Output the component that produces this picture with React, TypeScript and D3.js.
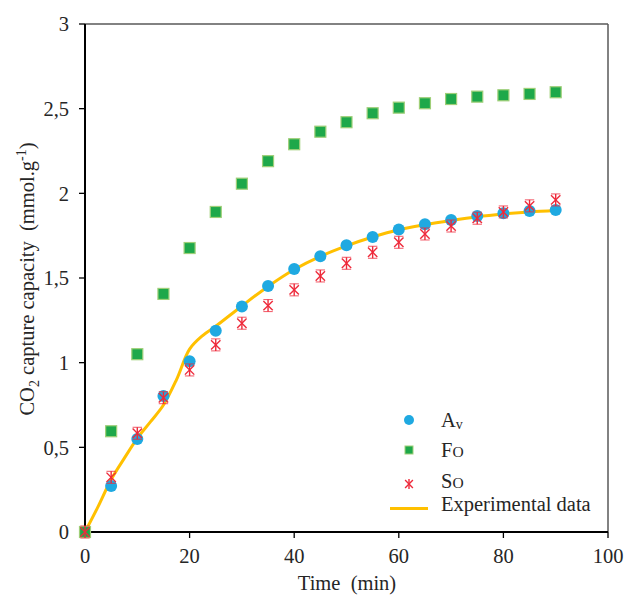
import React from "react";
import * as d3 from "d3";

const times = [0, 5, 10, 15, 20, 25, 30, 35, 40, 45, 50, 55, 60, 65, 70, 75, 80, 85, 90];
const avValues = [0, 0.272, 0.549, 0.803, 1.008, 1.189, 1.331, 1.453, 1.553, 1.628, 1.693, 1.742, 1.786, 1.817, 1.843, 1.866, 1.882, 1.896, 1.902];
const foValues = [0, 0.595, 1.05, 1.406, 1.677, 1.89, 2.057, 2.19, 2.29, 2.364, 2.42, 2.473, 2.506, 2.532, 2.557, 2.571, 2.579, 2.587, 2.597];
const soValues = [0, 0.323, 0.583, 0.793, 0.957, 1.105, 1.233, 1.337, 1.43, 1.512, 1.587, 1.652, 1.711, 1.76, 1.807, 1.853, 1.89, 1.926, 1.961];

const expTimes = [0, 2.5, 5, 7.5, 10, 12.5, 15, 17.5, 20, 22.5, 25, 30, 35, 40, 45, 50, 55, 60, 65, 70, 75, 80, 85, 90];
const expValues = [0, 0.15, 0.31, 0.435, 0.553, 0.65, 0.75, 0.9, 1.08, 1.16, 1.215, 1.335, 1.45, 1.55, 1.628, 1.69, 1.742, 1.785, 1.815, 1.84, 1.862, 1.878, 1.89, 1.898];

const xTicks = [0, 20, 40, 60, 80, 100];
const yTicks = [0, 0.5, 1, 1.5, 2, 2.5, 3];
const yTickLabels = ["0", "0,5", "1", "1,5", "2", "2,5", "3"];

const W = 625;
const H = 597;
const FONT = "Liberation Serif";
const TEXT = "#262626";
const BLUE = "#1fa9e1";
const GREEN = "#1ea84a";
const GREEN_EDGE = "#9fcf78";
const RED = "#ee2a3b";
const GOLD = "#ffc000";
const FS = 20.5;

const x = d3.scaleLinear().domain([0, 100]).range([85, 608]);
const y = d3.scaleLinear().domain([0, 3]).range([532, 24]);

function Star({ cx, cy, r, caps = true }: { cx: number; cy: number; r: number; caps?: boolean }) {
  const d = r * 0.78;
  return (
    <g stroke={RED} strokeWidth={1.4} fill="none">
      <line x1={cx} y1={cy - r} x2={cx} y2={cy + r} />
      <line x1={cx - d} y1={cy - d} x2={cx + d} y2={cy + d} />
      <line x1={cx - d} y1={cy + d} x2={cx + d} y2={cy - d} />
      {caps && <line x1={cx - d} y1={cy - r} x2={cx + d} y2={cy - r} strokeWidth={0.8} />}
      {caps && <line x1={cx - d} y1={cy + r} x2={cx + d} y2={cy + r} strokeWidth={0.8} />}
    </g>
  );
}

export default function App() {
  const expPts = expTimes.map((t, i) => [t, expValues[i]] as [number, number]);
  const line = d3
    .line<[number, number]>()
    .x((d) => x(d[0]))
    .y((d) => y(d[1]))
    .curve(d3.curveCatmullRom.alpha(0.5));
  const pathD = line(expPts) || "";
  const x0 = x(0), x1 = x(100), y0 = y(0), y1 = y(3);

  return (
    <svg width={W} height={H} style={{ position: "absolute", left: 0, top: 0, background: "#fff" }} fontFamily={FONT}>
      <rect x={0} y={0} width={W} height={H} fill="#fff" />
      {/* frame */}
      <line x1={x0} y1={y1} x2={x1} y2={y1} stroke="#595959" strokeWidth={1.5} />
      <line x1={x1} y1={y1} x2={x1} y2={y0} stroke="#595959" strokeWidth={1.5} />
      {/* y ticks */}
      {yTicks.map((t, i) => (
        <g key={"yt" + i}>
          <line x1={x0 - 6} x2={x0} y1={y(t)} y2={y(t)} stroke="#000" strokeWidth={1.3} />
          <text x={69} y={y(t)} dy="0.35em" textAnchor="end" fontSize={FS} fill={TEXT}>
            {yTickLabels[i]}
          </text>
        </g>
      ))}
      {/* x ticks */}
      {xTicks.map((t) => (
        <g key={"xt" + t}>
          <line x1={x(t)} x2={x(t)} y1={y0} y2={y0 + 6} stroke="#000" strokeWidth={1.3} />
          <text x={x(t)} y={563} textAnchor="middle" fontSize={FS} fill={TEXT}>
            {t}
          </text>
        </g>
      ))}
      {/* axes */}
      <line x1={x0} y1={y1} x2={x0} y2={y0} stroke="#000" strokeWidth={2} />
      <line x1={x0} y1={y0} x2={x1} y2={y0} stroke="#000" strokeWidth={2} />

      {/* experimental line */}
      <path d={pathD} fill="none" stroke={GOLD} strokeWidth={3} strokeLinejoin="round" />

      {/* series */}
      {times.map((t, i) => (
        <circle key={"a" + i} cx={x(t)} cy={y(avValues[i])} r={6} fill={BLUE} />
      ))}
      {times.map((t, i) => (
        <rect key={"f" + i} x={x(t) - 5.5} y={y(foValues[i]) - 5.5} width={11} height={11} fill={GREEN} stroke={GREEN_EDGE} strokeWidth={1.2} />
      ))}
      {times.map((t, i) => (
        <Star key={"s" + i} cx={x(t)} cy={y(soValues[i])} r={6} />
      ))}

      {/* axis titles */}
      <text x={347} y={590} textAnchor="middle" fontSize={FS} fill={TEXT}>
        Time{"\u00a0\u00a0"}(min)
      </text>
      <text transform="translate(34,279) rotate(-90)" textAnchor="middle" fontSize={FS} fill={TEXT}>
        CO
        <tspan fontSize={14} dy={5}>2</tspan>
        <tspan dy={-5}> capture capacity{"\u00a0\u00a0"}(mmol.g</tspan>
        <tspan fontSize={14} dy={-8}>-1</tspan>
        <tspan dy={8}>)</tspan>
      </text>

      {/* legend */}
      <circle cx={409} cy={420} r={5} fill={BLUE} />
      <text x={441} y={427} fontSize={FS} fill={TEXT}>
        A<tspan fontSize={14} dy={2}>v</tspan>
      </text>
      <rect x={405} y={446} width={8} height={8} fill={GREEN} stroke={GREEN_EDGE} strokeWidth={1} />
      <text x={441} y={457} fontSize={FS} fill={TEXT}>
        F<tspan fontSize={15.5}>O</tspan>
      </text>
      <Star cx={409} cy={484} r={5} caps={false} />
      <text x={441} y={488} fontSize={FS} fill={TEXT}>
        S<tspan fontSize={15.5}>O</tspan>
      </text>
      <line x1={390} x2={428} y1={508.5} y2={508.5} stroke={GOLD} strokeWidth={3} />
      <text x={441} y={511} fontSize={FS} fill={TEXT}>
        Experimental data
      </text>
    </svg>
  );
}
